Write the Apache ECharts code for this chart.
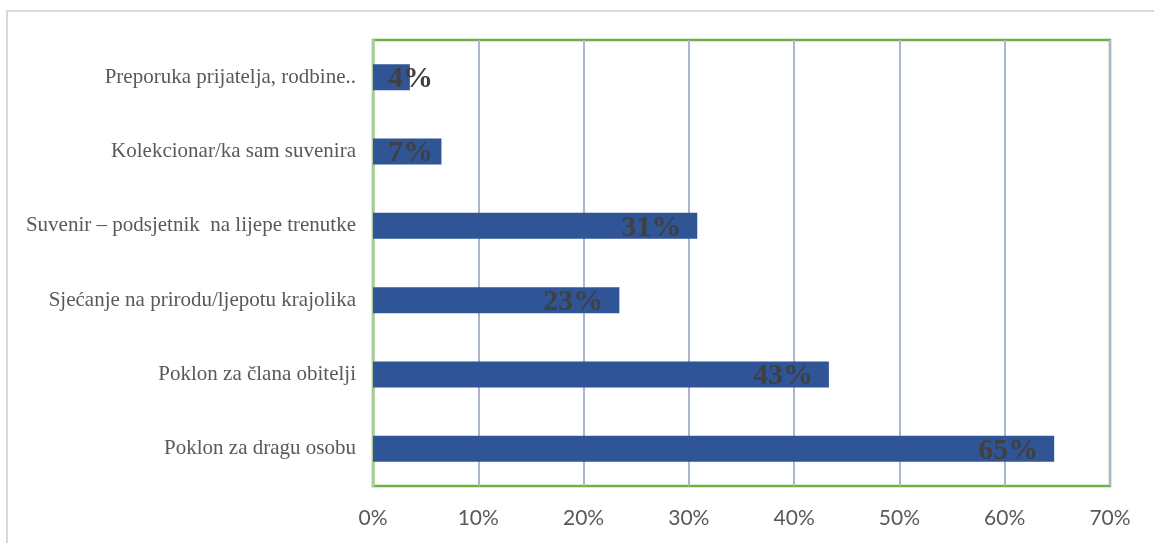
<!DOCTYPE html>
<html>
<head>
<meta charset="utf-8">
<script src="https://cdn.jsdelivr.net/npm/echarts@6/dist/echarts.min.js"></script>
<style>
  html, body { margin: 0; padding: 0; background: #fff; }
  #chart { width: 1154px; height: 543px; }
</style>
</head>
<body>
<div id="chart"></div>
<script>
// categories, top to bottom
const categories = [
  'Preporuka prijatelja, rodbine..',
  'Kolekcionar/ka sam suvenira',
  'Suvenir – podsjetnik  na lijepe trenutke',
  'Sjećanje na prirodu/ljepotu krajolika',
  'Poklon za člana obitelji',
  'Poklon za dragu osobu'
]
// share of respondents, %
const shares = [3.5, 6.5, 30.8, 23.4, 43.3, 64.7]
const axisMax = 70
const axisStep = 10

const chart = echarts.init(document.getElementById('chart'))

// short bars can't hold their label inside the end, so pin those to the left
const barData = shares.map(v => {
  if (v < 10) {
    return { value: v, label: { position: 'insideLeft', distance: 15 } }
  }
  return v
})

const options = {
  animation: false,
  graphic: [
    {
      type: 'rect',
      shape: { x: 7, y: 11, width: 1200, height: 600 },
      style: { fill: 'none', stroke: '#D9D9D9', lineWidth: 2 },
      z: -1
    }
  ],
  grid: {
    left: 373,
    top: 40,
    right: 44,
    bottom: 57,
    show: true,
    borderColor: '#70AD47',
    borderWidth: 2.5
  },
  xAxis: {
    type: 'value',
    min: 0,
    max: axisMax,
    interval: axisStep,
    axisLine: { show: false },
    axisTick: { show: false },
    axisLabel: {
      formatter: '{value}%',
      color: '#595959',
      fontFamily: 'Lato',
      fontSize: 21,
      margin: 22
    },
    splitLine: { lineStyle: { color: '#A9B6CE', width: 2 } }
  },
  yAxis: {
    type: 'category',
    inverse: true,
    data: categories,
    axisLine: { lineStyle: { color: '#A9D18E', width: 2.5 } },
    axisTick: { show: false },
    axisLabel: {
      color: '#595959',
      fontFamily: 'Liberation Serif',
      fontSize: 21,
      margin: 17
    }
  },
  series: [
    {
      type: 'bar',
      data: barData,
      barWidth: 26,
      itemStyle: { color: '#2F5597' },
      label: {
        show: true,
        position: 'insideRight',
        distance: 16,
        offset: [0, 2],
        formatter: p => Math.round(p.value) + '%',
        color: '#404040',
        fontFamily: 'Liberation Serif',
        fontWeight: 'bold',
        fontSize: 30
      }
    }
  ]
}
chart.setOption(options)
</script>
</body>
</html>
